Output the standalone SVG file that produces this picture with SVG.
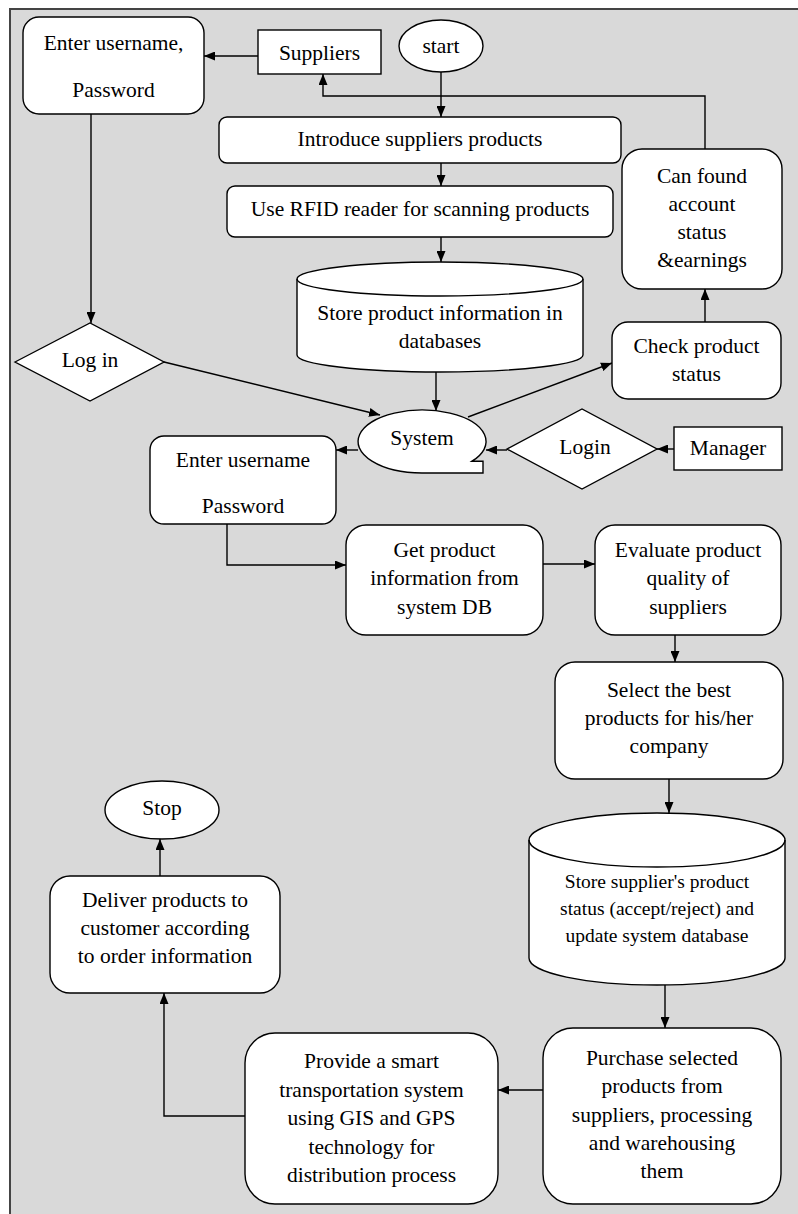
<svg xmlns="http://www.w3.org/2000/svg" width="798" height="1214" viewBox="0 0 798 1214">
<style>
.n{fill:#fff;stroke:#000;stroke-width:1.4}
text{font-family:'Liberation Serif','Times New Roman','DejaVu Serif',serif;font-size:21.5px;fill:#000;text-anchor:middle}
.s{font-size:19.5px}
.c{fill:none;stroke:#000;stroke-width:1.4}
</style>
<defs>
<marker id="a" markerUnits="userSpaceOnUse" markerWidth="11" markerHeight="9" refX="11" refY="4.5" orient="auto">
<path d="M0,0 L11,4.5 L0,9 z" fill="#000"/>
</marker>
</defs>
<rect x="0" y="0" width="798" height="1214" fill="#fff"/>
<rect x="10" y="9" width="800" height="1220" fill="#d9d9d9" stroke="#444" stroke-width="2"/>

<g id="connectors">
<path class="c" d="M258,56 L204,56" marker-end="url(#a)"/>
<path class="c" d="M441,72 L441,117" marker-end="url(#a)"/>
<path class="c" d="M705,149 L705,96 L323,96 L323,74" marker-end="url(#a)"/>
<path class="c" d="M441,163 L441,186" marker-end="url(#a)"/>
<path class="c" d="M441,237 L441,262" marker-end="url(#a)"/>
<path class="c" d="M91,114 L91,323" marker-end="url(#a)"/>
<path class="c" d="M164,362 L380,415" marker-end="url(#a)"/>
<path class="c" d="M436,372 L436,411" marker-end="url(#a)"/>
<path class="c" d="M468,417 L612,363" marker-end="url(#a)"/>
<path class="c" d="M705,322 L705,289" marker-end="url(#a)"/>
<path class="c" d="M674,449 L657,449" marker-end="url(#a)"/>
<path class="c" d="M507,450 L486,450" marker-end="url(#a)"/>
<path class="c" d="M358,450 L336,450" marker-end="url(#a)"/>
<path class="c" d="M227,524 L227,565 L346,565" marker-end="url(#a)"/>
<path class="c" d="M543,564 L595,564" marker-end="url(#a)"/>
<path class="c" d="M675,635 L675,662" marker-end="url(#a)"/>
<path class="c" d="M669,779 L669,813" marker-end="url(#a)"/>
<path class="c" d="M665,985 L665,1028" marker-end="url(#a)"/>
<path class="c" d="M543,1090 L498,1090" marker-end="url(#a)"/>
<path class="c" d="M245,1116 L164,1116 L164,993" marker-end="url(#a)"/>
<path class="c" d="M160,876 L160,839" marker-end="url(#a)"/>
</g>

<g id="enter1">
<rect class="n" x="23" y="17" width="181" height="97" rx="16"/>
<text x="113.5" y="50">Enter username,</text>
<text x="113.5" y="97">Password</text>
</g>
<g id="suppliers">
<rect class="n" x="258" y="30" width="123" height="44"/>
<text x="319.5" y="60">Suppliers</text>
</g>
<g id="start">
<ellipse class="n" cx="441" cy="46" rx="42" ry="26"/>
<text x="441" y="53">start</text>
</g>
<g id="introduce">
<rect class="n" x="219" y="117" width="402" height="46" rx="8"/>
<text x="420" y="146">Introduce suppliers products</text>
</g>
<g id="rfid">
<rect class="n" x="227" y="186" width="386" height="51" rx="8"/>
<text x="420" y="216">Use RFID reader for scanning products</text>
</g>
<g id="store1">
<path class="n" d="M297,279 A143,17 0 0,1 583,279 L583,355 A143,17 0 0,1 297,355 Z"/>
<path class="c" d="M297,279 A143,17 0 0,0 583,279"/>
<text x="440" y="320">Store product information in</text>
<text x="440" y="348">databases</text>
</g>
<g id="canfound">
<rect class="n" x="622" y="149" width="160" height="140" rx="20"/>
<text x="702" y="183">Can found</text>
<text x="702" y="211">account</text>
<text x="702" y="239">status</text>
<text x="702" y="267">&amp;earnings</text>
</g>
<g id="check">
<rect class="n" x="612" y="322" width="169" height="77" rx="16"/>
<text x="696.5" y="353">Check product</text>
<text x="696.5" y="381">status</text>
</g>
<g id="login1">
<polygon class="n" points="15,362 90,323 164,362 90,401"/>
<text x="90" y="367">Log in</text>
</g>
<g id="system">
<path class="n" d="M422,473 A64,31.5 0 1,1 472,461.2 L483,461.2 L483,473 Z"/>
<text x="422" y="445">System</text>
</g>
<g id="login2">
<polygon class="n" points="507,449 582,409 657,449 582,489"/>
<text x="585" y="454">Login</text>
</g>
<g id="manager">
<rect class="n" x="674" y="427" width="108" height="43"/>
<text x="728" y="455">Manager</text>
</g>
<g id="enter2">
<rect class="n" x="150" y="436" width="186" height="88" rx="14"/>
<text x="243" y="467">Enter username</text>
<text x="243" y="513">Password</text>
</g>
<g id="getinfo">
<rect class="n" x="346" y="525" width="197" height="110" rx="20"/>
<text x="444.5" y="557">Get product</text>
<text x="444.5" y="585">information from</text>
<text x="444.5" y="614">system DB</text>
</g>
<g id="evaluate">
<rect class="n" x="595" y="525" width="186" height="110" rx="20"/>
<text x="688" y="557">Evaluate product</text>
<text x="688" y="585">quality of</text>
<text x="688" y="614">suppliers</text>
</g>
<g id="select">
<rect class="n" x="555" y="662" width="228" height="117" rx="20"/>
<text x="669" y="697">Select the best</text>
<text x="669" y="725">products for his/her</text>
<text x="669" y="753">company</text>
</g>
<g id="store2">
<path class="n" d="M529,840 A128,27 0 0,1 785,840 L785,958 A128,27 0 0,1 529,958 Z"/>
<path class="c" d="M529,840 A128,27 0 0,0 785,840"/>
<text class="s" x="657" y="888">Store supplier's product</text>
<text class="s" x="657" y="915">status (accept/reject) and</text>
<text class="s" x="657" y="942">update system database</text>
</g>
<g id="purchase">
<rect class="n" x="543" y="1028" width="238" height="176" rx="30"/>
<text x="662" y="1065">Purchase selected</text>
<text x="662" y="1093">products from</text>
<text x="662" y="1121.5">suppliers, processing</text>
<text x="662" y="1150">and warehousing</text>
<text x="662" y="1178">them</text>
</g>
<g id="provide">
<rect class="n" x="245" y="1033" width="253" height="171" rx="30"/>
<text x="371.5" y="1068">Provide a smart</text>
<text x="371.5" y="1096.5">transportation system</text>
<text x="371.5" y="1125">using GIS and GPS</text>
<text x="371.5" y="1153.5">technology for</text>
<text x="371.5" y="1182">distribution process</text>
</g>
<g id="deliver">
<rect class="n" x="50" y="876" width="230" height="117" rx="20"/>
<text x="165" y="907">Deliver products to</text>
<text x="165" y="935">customer according</text>
<text x="165" y="963">to order information</text>
</g>
<g id="stop">
<ellipse class="n" cx="162" cy="810" rx="57" ry="29"/>
<text x="162" y="815">Stop</text>
</g>
</svg>
